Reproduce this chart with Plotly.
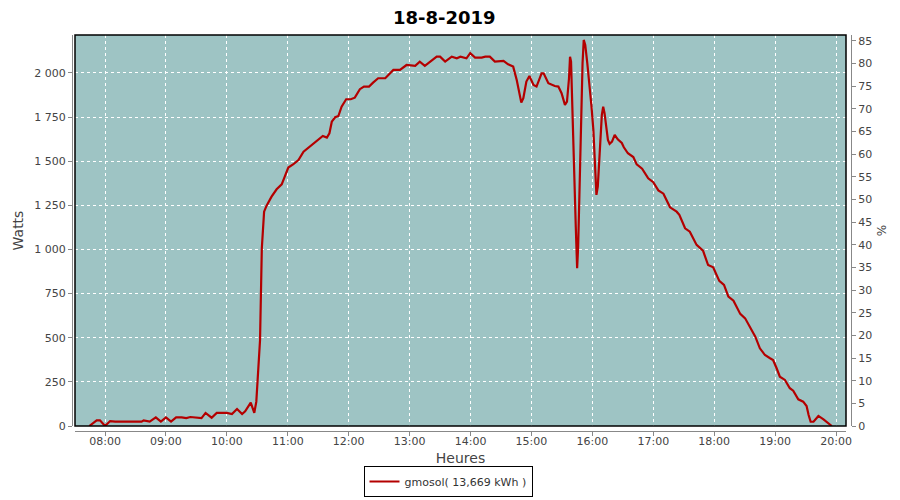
import plotly.graph_objects as go

DATE = "2019-08-18"
times = ["07:44:30","07:51:45","07:55:00","08:00:00","08:05:00","08:10:00","08:36:00","08:38:00","08:44:00","08:50:00",
         "08:55:00","09:00:00","09:05:00","09:10:00","09:15:30","09:20:00","09:24:00","09:35:00","09:39:00","09:45:00",
         "09:50:00","10:00:00","10:05:00","10:10:00","10:15:00","10:18:00","10:23:30","10:27:00","10:29:00","10:30:00",
         "10:31:00","10:32:40","10:34:25","10:35:25","10:36:40","10:39:00","10:44:00","10:49:00","10:54:00","10:57:00",
         "11:00:30","11:05:30","11:10:30","11:15:30","11:22:00","11:28:30","11:34:30","11:38:30","11:41:00","11:43:20",
         "11:46:40","11:49:50","11:53:00","11:57:30","12:02:00","12:06:00","12:11:00","12:15:00","12:20:00","12:24:00",
         "12:29:00","12:36:00","12:39:00","12:44:00","12:50:30","12:57:00","13:05:30","13:10:00","13:15:00","13:20:00",
         "13:26:40","13:30:00","13:35:00","13:41:30","13:46:30","13:50:00","13:56:00","13:59:40","14:04:30","14:11:00",
         "14:14:30","14:19:00","14:24:00","14:32:30","14:37:00","14:42:00","14:45:30","14:50:00","14:52:00","14:55:00",
         "14:58:00","15:02:00","15:05:00","15:10:00","15:12:00","15:16:40","15:23:00","15:26:30","15:29:40","15:33:00",
         "15:35:00","15:37:00","15:38:00","15:39:00","15:40:40","15:42:00","15:43:40","15:45:00","15:46:00","15:47:00",
         "15:48:00","15:49:00","15:50:20","15:51:30","15:53:00","15:55:00","15:57:00","15:59:00","16:01:00","16:02:40",
         "16:04:00","16:05:20","16:06:40","16:08:00","16:09:20","16:10:40","16:12:00","16:13:40","16:15:20","16:17:00",
         "16:19:20","16:22:00","16:25:00","16:29:00","16:31:00","16:35:00","16:40:20","16:43:40","16:49:00","16:55:00",
         "17:00:00","17:05:00","17:10:00","17:16:30","17:23:00","17:25:40","17:31:20","17:36:00","17:42:40","17:49:00",
         "17:54:00","17:59:00","18:05:00","18:09:40","18:14:00","18:19:00","18:25:40","18:30:30","18:35:30","18:40:30",
         "18:45:00","18:50:00","18:55:00","18:58:00","19:01:30","19:04:40","19:09:40","19:14:30","19:17:50","19:22:50",
         "19:27:40","19:31:00","19:33:00","19:35:00","19:37:50","19:42:40","19:47:40","19:52:30","19:55:50"]
watts = [0,32,32,0,28,25,25,32,25,49,
         25,49,25,49,49,45,51,45,74,47,
         74,74,68,96,68,83,132,75,138,223,
         364,487,1007,1129,1214,1247,1299,1341,1369,1413,
         1464,1483,1507,1554,1583,1611,1643,1634,1658,1724,
         1749,1756,1809,1851,1851,1860,1908,1923,1923,1945,
         1970,1970,1989,2017,2017,2045,2040,2064,2040,2064,
         2092,2092,2064,2092,2083,2092,2083,2112,2087,2087,
         2092,2092,2064,2068,2049,2036,1960,1832,1857,1951,
         1983,1932,1923,1998,1998,1942,1926,1923,1885,1819,
         1838,1970,2092,2064,1687,1413,1129,894,1016,1252,
         1545,1809,2055,2187,2159,2055,1951,1819,1677,1498,
         1309,1356,1488,1621,1762,1809,1772,1696,1621,1598,
         1611,1649,1624,1603,1579,1545,1524,1482,1458,1403,
         1381,1335,1316,1239,1214,1196,1120,1101,1026,993,
         912,899,822,799,733,710,635,610,559,506,
         440,402,384,374,327,279,261,214,200,151,
         138,113,62,24,24,57,38,15,0]

y_ticks = [0, 250, 500, 750, 1000, 1250, 1500, 1750, 2000]
y_labels = ["0", "250", "500", "750", "1 000", "1 250", "1 500", "1 750", "2 000"]
pct_ticks = list(range(0, 90, 5))
hour_ticks = ["%02d:00" % h for h in range(8, 21)]

series_name = "gmosol( 13,669 kWh )"
title = "18-8-2019"

xs = [f"{DATE} {t}" for t in times]

fig = go.Figure()
fig.add_trace(go.Scatter(x=xs, y=watts, mode="lines", name=series_name,
                         line=dict(color="#B40000", width=2.2)))
fig.add_trace(go.Scatter(x=[xs[0]], y=[None], yaxis="y2", mode="lines",
                         showlegend=False, hoverinfo="skip"))

# page body has an 8px margin; lay out in target-pixel coordinates minus that offset
OFF = 8
W, H = 900 - OFF, 500 - OFF
PX0, PX1, PY0, PY1 = 75 - OFF, 846 - OFF, 35 - OFF, 426 - OFF   # plot area
AXL, AXR, AXB = 72 - OFF, 851 - OFF, 431 - OFF                    # axis lines
l, r, t, b = AXL, W - AXR, PY0, H - AXB
pw = W - l - r
ph = H - t - b

tickfont = dict(family="DejaVu Sans", size=11, color="#444444")

fig.update_layout(
    width=W, height=H,
    margin=dict(l=l, r=r, t=t, b=b, autoexpand=False),
    paper_bgcolor="white",
    plot_bgcolor="rgb(158,196,196)",
    title=dict(text=title, x=(453 - OFF - l) / pw, xanchor="center", y=1 - (18 - OFF) / H, yanchor="middle",
               font=dict(family="DejaVu Sans", size=18, color="black", weight="bold")),
    showlegend=True,
    legend=dict(orientation="h", x=(448 - OFF - l) / pw, xanchor="center", y=(AXB - (497 - OFF)) / ph,
                yanchor="bottom",
                bordercolor="black", borderwidth=1, bgcolor="white",
                font=dict(family="DejaVu Sans", size=11, color="#333333")),
    xaxis=dict(
        type="date",
        domain=[(PX0 - l) / pw, (PX1 - l) / pw],
        range=[f"{DATE} 07:30:24", f"{DATE} 20:09:50"],
        tickvals=[f"{DATE} {h}" for h in hour_ticks],
        ticktext=hour_ticks,
        showgrid=True, gridcolor="white", griddash="dot", gridwidth=1,
        anchor="free", position=0,
        showline=True, linecolor="#888888", linewidth=1,
        ticks="outside", ticklen=4, tickcolor="#888888",
        ticklabelstandoff=-4,
        tickfont=tickfont,
        title=dict(text="Heures", font=dict(family="DejaVu Sans", size=14, color="#444444"), standoff=5),
        zeroline=False,
    ),
    yaxis=dict(
        domain=[(AXB - PY1) / ph, 1],
        range=[0, 2215],
        tickvals=y_ticks, ticktext=y_labels,
        showgrid=True, gridcolor="white", griddash="dot", gridwidth=1,
        anchor="free", position=0,
        showline=True, linecolor="#888888", linewidth=1,
        ticks="outside", ticklen=4, tickcolor="#888888",
        tickfont=tickfont,
        title=dict(text="Watts", font=dict(family="DejaVu Sans", size=14, color="#444444"), standoff=6),
        zeroline=False,
    ),
    yaxis2=dict(
        overlaying="y",
        side="right",
        range=[0, 86.25],
        tickvals=pct_ticks,
        showgrid=False,
        anchor="free", position=1,
        showline=True, linecolor="#888888", linewidth=1,
        ticks="outside", ticklen=4, tickcolor="#888888",
        tickfont=tickfont,
        title=dict(text="%", font=dict(family="DejaVu Sans", size=12, color="#444444"), standoff=6),
        zeroline=False,
    ),
    shapes=[dict(type="rect", xref="paper", yref="paper",
                 x0=(PX0 - l) / pw, x1=(PX1 - l) / pw, y0=(AXB - PY1) / ph, y1=1,
                 line=dict(color="black", width=1.5), fillcolor="rgba(0,0,0,0)", layer="above")],
)

fig.write_html("out.html")
